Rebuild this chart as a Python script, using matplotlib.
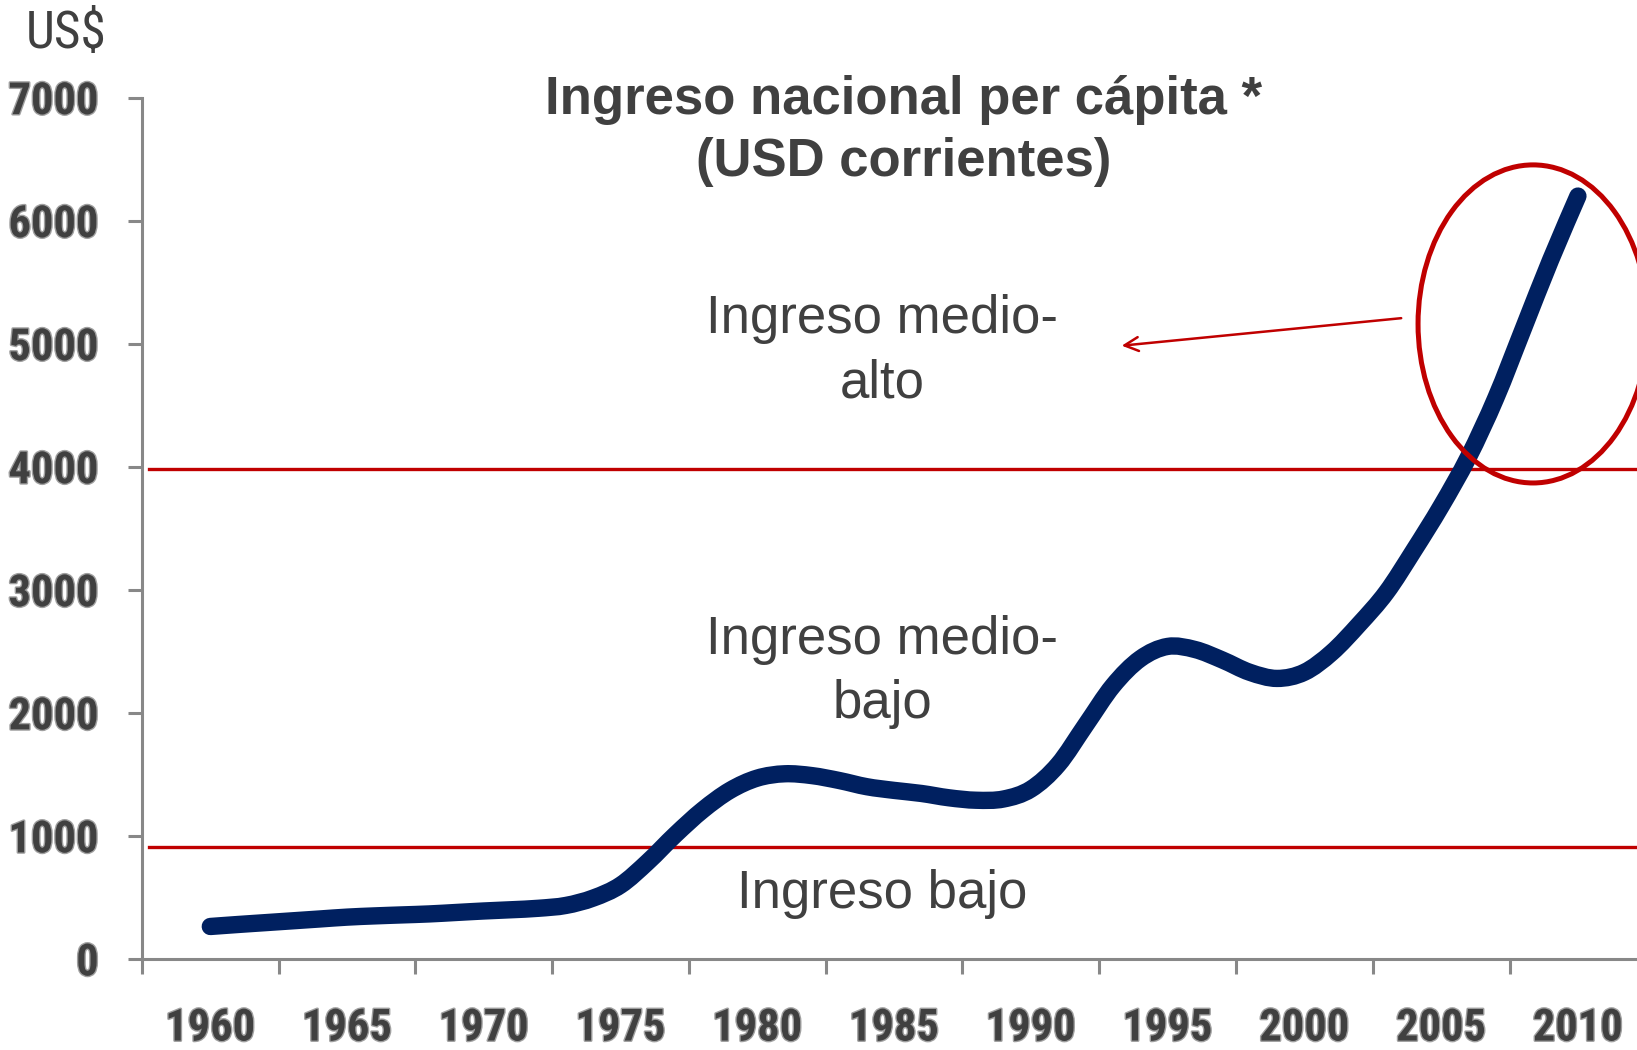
import matplotlib
matplotlib.use("Agg")
import matplotlib.pyplot as plt
from matplotlib import font_manager as fm
from matplotlib.patches import Ellipse, PathPatch
from matplotlib.path import Path
import matplotlib.patheffects as pe

# Ingreso nacional per capita, USD corrientes
years = list(range(1960, 2011))
gni = [264, 280, 295, 310, 325, 340, 350, 358, 366, 378,
       390, 400, 412, 435, 495, 600, 790, 1010, 1210, 1370,
       1470, 1505, 1490, 1450, 1400, 1370, 1345, 1310, 1290, 1300,
       1380, 1580, 1900, 2220, 2440, 2540, 2515, 2430, 2330, 2280,
       2330, 2490, 2720, 2980, 3320, 3680, 4080, 4560, 5120, 5680,
       6200]

low_limit = 910        # linea ingreso bajo / medio-bajo
upper_limit = 3985     # linea medio-bajo / medio-alto

yticks = [0, 1000, 2000, 3000, 4000, 5000, 6000, 7000]
xlabels = [1960, 1965, 1970, 1975, 1980, 1985, 1990, 1995, 2000, 2005, 2010]

# buscar una fuente estrecha (tipo Arial Narrow) si existe
fonts = fm.fontManager.ttflist
narrow_bold = None
narrow_reg = None
for cand in ['Liberation Sans Narrow', 'Roboto Condensed', 'Open Sans Condensed',
             'Noto Sans Condensed', 'DejaVu Sans Condensed']:
    for f in fonts:
        if f.name == cand:
            if f.weight in ('bold', 700) and f.style == 'normal' and narrow_bold is None:
                narrow_bold = f.fname
            if f.weight in ('normal', 'regular', 400) and f.style == 'normal' and narrow_reg is None:
                narrow_reg = f.fname
if narrow_bold is None:
    for f in fonts:
        if f.name in ('Liberation Sans', 'Noto Sans', 'Roboto', 'Open Sans', 'DejaVu Sans') \
                and f.stretch in ('condensed', 'semi-condensed', 'extra-condensed', 500, 300) \
                and f.weight in ('bold', 700) and f.style == 'normal':
            narrow_bold = f.fname
            break

plt.rcParams['font.family'] = ['Liberation Sans', 'DejaVu Sans']

grey = '#404040'
red = '#C00000'
navy = '#002060'

fig = plt.figure(figsize=(16.37, 10.5), dpi=100)
ax = fig.add_axes([0.0867, 0.0867, 0.9133, 0.8203])

# linea suavizada (curvas Bezier a partir de los puntos anuales, como Excel)
pts = list(zip(years, gni))
verts = [pts[0]]
codes = [Path.MOVETO]
for i in range(len(pts) - 1):
    p0 = pts[i - 1] if i > 0 else pts[i]
    p1 = pts[i]
    p2 = pts[i + 1]
    p3 = pts[i + 2] if i + 2 < len(pts) else pts[i + 1]
    c1 = (p1[0] + (p2[0] - p0[0]) / 6, p1[1] + (p2[1] - p0[1]) / 6)
    c2 = (p2[0] - (p3[0] - p1[0]) / 6, p2[1] - (p3[1] - p1[1]) / 6)
    verts += [c1, c2, p2]
    codes += [Path.CURVE4] * 3
ax.add_patch(PathPatch(Path(verts, codes), fill=False, edgecolor=navy, lw=12.5,
                       capstyle='round', joinstyle='round', zorder=3))
ax.plot(years, gni, alpha=0)

ax.plot([1957.76, 2013], [low_limit, low_limit], color=red, lw=2.4, zorder=2, clip_on=False)
ax.plot([1957.76, 2013], [upper_limit, upper_limit], color=red, lw=2.4, zorder=2, clip_on=False)

ax.add_patch(Ellipse((2008.36, 5161), 8.41, 2585, fill=False, edgecolor=red, lw=3.6, zorder=4, clip_on=False))
ax.annotate('', xy=(1993.22, 4982), xytext=(2003.64, 5210),
            arrowprops=dict(arrowstyle='->,head_length=1.0,head_width=0.5', color=red, lw=1.8))

ax.set_xlim(1957.5, 2012.16)
ax.set_ylim(0, 7000)

for s in ['top', 'right']:
    ax.spines[s].set_visible(False)
for s in ['left', 'bottom']:
    ax.spines[s].set_color('#888888')
    ax.spines[s].set_linewidth(2.2)

ax.set_yticks(yticks)
ax.set_yticklabels([str(v) for v in yticks])
ax.set_xticks([y - 2.5 for y in xlabels])
ax.set_xticklabels([])
ax.set_xticks(xlabels, minor=True)
ax.set_xticklabels([str(y) for y in xlabels], minor=True)

if narrow_bold:
    tick_font = fm.FontProperties(fname=narrow_bold, size=32)
else:
    tick_font = fm.FontProperties(family='Liberation Sans', weight='bold', size=28.5)

ax.tick_params(axis='y', length=10, width=2.2, color='#888888', pad=21, labelcolor=grey)
ax.tick_params(axis='x', which='major', length=11, width=2.2, color='#888888')
ax.tick_params(axis='x', which='minor', length=0, pad=35, labelcolor=grey)

halo = [pe.withStroke(linewidth=2, foreground='#a0a0a0')]
for lab in ax.get_yticklabels() + ax.get_xticklabels(minor=True):
    lab.set_fontproperties(tick_font)
    lab.set_path_effects(halo)

txt = dict(ha='center', va='center', fontsize=38, color=grey, linespacing=1.36)
ax.text(1984.56, 4940, 'Ingreso medio-\nalto', **txt)
ax.text(1984.56, 2335, 'Ingreso medio-\nbajo', **txt)
ax.text(1984.56, 530, 'Ingreso bajo', **txt)

fig.text(0.552, 0.875, 'Ingreso nacional per cápita *\n(USD corrientes)', ha='center', va='center',
         fontsize=38, fontweight='bold', color=grey, linespacing=1.31)
if narrow_reg:
    us_font = fm.FontProperties(fname=narrow_reg, size=37)
else:
    us_font = fm.FontProperties(family='Liberation Sans', size=31)
fig.text(0.0403, 0.9676, 'US$', ha='center', va='center', color=grey, fontproperties=us_font)

fig.savefig('out.png', dpi=100)
